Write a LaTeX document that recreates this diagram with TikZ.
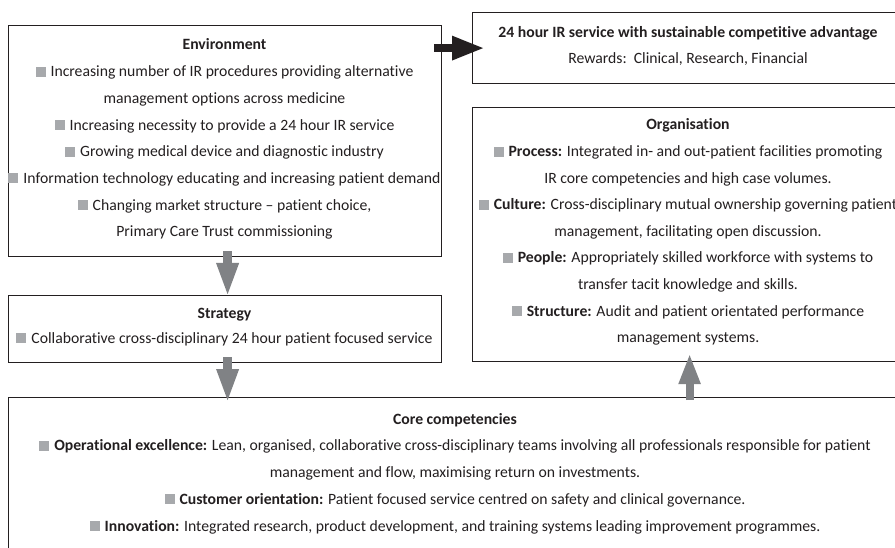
\documentclass[tikz,border=0pt]{standalone}
\usepackage{fontspec}
\setmainfont{Carlito}[Ligatures=NoCommon]
\usetikzlibrary{arrows.meta,calc}

\definecolor{ink}{HTML}{231F20}
\definecolor{bulletgrey}{HTML}{A7A9AC}
\definecolor{arrowgrey}{HTML}{808285}

% grey square bullet in front of each item
\newcommand{\bul}{{\color{bulletgrey}\rule{10pt}{10pt}}\hspace{5pt}}

\tikzset{
  panel/.style={draw=ink, line width=1.2pt, inner sep=0pt, anchor=north west},
  txt/.style={anchor=base, inner sep=0pt, text=ink, font=\fontsize{15.7}{18}\selectfont},
  greyflow/.style={draw=arrowgrey, line width=9pt,
    -{Triangle[width=20pt,length=34pt]}, arrowgrey},
  blackflow/.style={draw=ink, line width=8.5pt,
    -{Triangle[width=22pt,length=33pt]}, ink},
}

\begin{document}
\begin{tikzpicture}[x=1pt,y=-1pt]
\useasboundingbox (0,0) rectangle (895,548);
\clip (0,0) rectangle (895,548);
\fill[white] (0,0) rectangle (895,548);

% panels
\node[panel, minimum width=433pt, minimum height=231pt] (env)   at (8,25)   {};
\node[panel, minimum width=433pt, minimum height=67pt]  (strat) at (8,295)  {};
\node[panel, minimum width=432pt, minimum height=71pt]  (goal)  at (472,12) {};
\node[panel, minimum width=432pt, minimum height=254pt] (org)   at (472,107){};
\node[panel, minimum width=894pt, minimum height=170pt] (core)  at (8,397)  {};

% Environment
\foreach \t [count=\i] in {
  {\bfseries Environment},
  {\bul Increasing number of IR procedures providing alternative},
  {management options across medicine},
  {\bul Increasing necessity to provide a 24 hour IR service},
  {\bul Growing medical device and diagnostic industry},
  {\bul Information technology educating and increasing patient demand},
  {\bul Changing market structure – patient choice,},
  {Primary Care Trust commissioning}}
  \node[txt] (env\i) at (224.5,{50+26.7*(\i-1)}) {\t};

% Strategy
\node[txt] (strat1) at (224.5,318.3) {\bfseries Strategy};
\node[txt] (strat2) at (224.5,343.3) {\bul Collaborative cross-disciplinary 24 hour patient focused service};

% Outcome
\node[txt] (goal1) at (688,37.3) {\bfseries 24 hour IR service with sustainable competitive advantage};
\node[txt] (goal2) at (688,63.3) {Rewards:\ \ Clinical, Research, Financial};

% Organisation
\foreach \t [count=\i] in {
  {\bfseries Organisation},
  {\bul\textbf{Process:} Integrated in- and out-patient facilities promoting},
  {IR core competencies and high case volumes.},
  {\bul\textbf{Culture:} Cross-disciplinary mutual ownership governing patient},
  {management, facilitating open discussion.},
  {\bul\textbf{People:} Appropriately skilled workforce with systems to},
  {transfer tacit knowledge and skills.},
  {\bul\textbf{Structure:} Audit and patient orientated performance},
  {management systems.}}
  \node[txt] (org\i) at (688,{130+26.6*(\i-1)}) {\t};

% Core competencies
\foreach \t [count=\i] in {
  {\bfseries Core competencies},
  {\bul\textbf{Operational excellence:} Lean, organised, collaborative cross-disciplinary teams involving all professionals responsible for patient},
  {management and flow, maximising return on investments.},
  {\bul\textbf{Customer orientation:} Patient focused service centred on safety and clinical governance.},
  {\bul\textbf{Innovation:} Integrated research, product development, and training systems leading improvement programmes.}}
  \node[txt] (core\i) at (455,{424+26.8*(\i-1)}) {\t};

% flow arrows
\draw[blackflow] ([xshift=-8pt]env.east |- goal.west) -- ([xshift=13pt]goal.west);
\draw[greyflow] ([xshift=2.5pt,yshift=6pt]env.south) -- ([xshift=2.5pt,yshift=-2pt]strat.north);
\draw[greyflow] ([xshift=2.5pt,yshift=6pt]strat.south) -- ([xshift=2.5pt,yshift=-6pt]strat.south |- core.north);
\draw[greyflow, line width=8pt, -{Triangle[width=20pt,length=31pt]}]
  ([xshift=1pt,yshift=-3pt]org.south |- core.north) -- ([xshift=1pt,yshift=9pt]org.south);
\end{tikzpicture}
\end{document}
